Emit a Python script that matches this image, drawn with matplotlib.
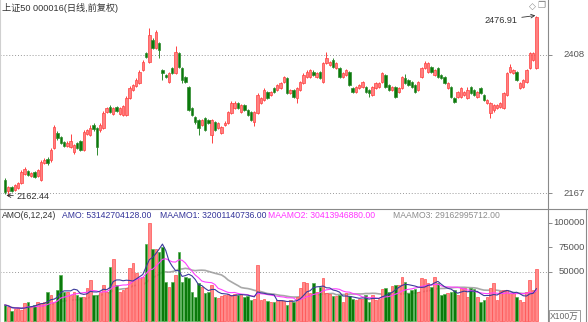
import matplotlib
matplotlib.use('Agg')
import matplotlib.pyplot as plt
from matplotlib.lines import Line2D
import numpy as np
import pandas as pd

plt.rcParams['font.family'] = ['Liberation Sans', 'Noto Sans CJK SC', 'DejaVu Sans']

# daily candles, SSE 50 (price)
opens = [2190, 2171, 2177, 2172, 2176, 2185, 2200, 2205, 2197, 2204,
         2197, 2190, 2219, 2226, 2225, 2246, 2272, 2265, 2256, 2249,
         2247, 2239, 2254, 2258, 2242, 2270, 2268, 2286, 2280, 2277,
         2280, 2308, 2317, 2305, 2317, 2305, 2303, 2303, 2333, 2347,
         2354, 2359, 2382, 2411, 2396, 2434, 2420, 2429, 2382, 2373,
         2361, 2385, 2377, 2411, 2385, 2370, 2352, 2315, 2300, 2294,
         2286, 2298, 2294, 2268, 2291, 2280, 2272, 2286, 2289, 2307,
         2315, 2324, 2308, 2321, 2312, 2308, 2291, 2307, 2324, 2329,
         2343, 2338, 2350, 2347, 2350, 2361, 2368, 2342, 2347, 2333,
         2347, 2359, 2370, 2370, 2378, 2370, 2378, 2361, 2394, 2390,
         2399, 2385, 2385, 2370, 2373, 2378, 2350, 2343, 2350, 2352,
         2352, 2347, 2338, 2350, 2352, 2361, 2373, 2356, 2347, 2352,
         2343, 2350, 2368, 2364, 2361, 2356, 2347, 2370, 2385, 2378,
         2387, 2373, 2385, 2373, 2370, 2350, 2352, 2333, 2335, 2335,
         2338, 2333, 2352, 2347, 2335, 2350, 2338, 2324, 2307, 2312,
         2315, 2317, 2315, 2338, 2378, 2377, 2378, 2350, 2352, 2361,
         2385, 2399, 2385]
closes = [2169, 2177, 2171, 2181, 2185, 2204, 2209, 2198, 2202, 2195,
          2207, 2221, 2225, 2219, 2242, 2282, 2263, 2254, 2249, 2254,
          2258, 2251, 2246, 2242, 2274, 2277, 2280, 2279, 2247, 2286,
          2307, 2315, 2308, 2315, 2310, 2315, 2319, 2333, 2350, 2356,
          2364, 2378, 2396, 2404, 2443, 2420, 2448, 2417, 2377, 2370,
          2377, 2377, 2413, 2387, 2364, 2361, 2312, 2303, 2291, 2281,
          2294, 2277, 2289, 2294, 2277, 2289, 2282, 2289, 2308, 2324,
          2324, 2315, 2321, 2312, 2303, 2294, 2308, 2338, 2333, 2347,
          2333, 2343, 2343, 2356, 2359, 2370, 2342, 2347, 2335, 2350,
          2361, 2373, 2378, 2382, 2373, 2377, 2368, 2394, 2403, 2396,
          2387, 2394, 2370, 2377, 2382, 2356, 2343, 2352, 2356, 2361,
          2343, 2342, 2352, 2359, 2359, 2377, 2352, 2347, 2352, 2335,
          2350, 2369, 2359, 2356, 2352, 2343, 2361, 2385, 2394, 2394,
          2378, 2382, 2370, 2368, 2359, 2359, 2335, 2326, 2343, 2350,
          2343, 2347, 2342, 2338, 2343, 2342, 2329, 2329, 2324, 2321,
          2321, 2324, 2342, 2377, 2387, 2382, 2364, 2359, 2364, 2382,
          2411, 2411, 2474]
highs = [2193, 2179, 2179, 2183, 2187, 2207, 2212, 2207, 2204, 2206,
         2209, 2224, 2229, 2230, 2245, 2286, 2275, 2267, 2258, 2257,
         2270, 2253, 2256, 2260, 2277, 2279, 2285, 2290, 2283, 2289,
         2310, 2318, 2320, 2317, 2319, 2318, 2321, 2336, 2353, 2358,
         2367, 2381, 2399, 2414, 2455, 2437, 2451, 2431, 2383, 2375,
         2379, 2387, 2424, 2413, 2387, 2372, 2354, 2317, 2302, 2296,
         2296, 2300, 2296, 2297, 2293, 2291, 2284, 2292, 2311, 2327,
         2327, 2326, 2323, 2323, 2314, 2310, 2310, 2341, 2335, 2350,
         2345, 2346, 2352, 2358, 2361, 2372, 2370, 2349, 2349, 2352,
         2363, 2376, 2381, 2384, 2381, 2379, 2380, 2396, 2413, 2398,
         2402, 2396, 2387, 2379, 2384, 2380, 2352, 2354, 2358, 2363,
         2354, 2349, 2354, 2361, 2361, 2379, 2375, 2358, 2354, 2354,
         2352, 2371, 2374, 2366, 2363, 2358, 2363, 2387, 2397, 2396,
         2389, 2384, 2387, 2375, 2372, 2361, 2354, 2335, 2345, 2352,
         2345, 2352, 2354, 2349, 2345, 2352, 2340, 2331, 2326, 2323,
         2323, 2326, 2344, 2379, 2392, 2384, 2380, 2361, 2366, 2384,
         2413, 2413, 2476.91]
lows = [2165, 2162.44, 2168, 2170, 2174, 2183, 2198, 2196, 2195, 2193,
        2195, 2188, 2217, 2216, 2222, 2244, 2260, 2252, 2247, 2247,
        2245, 2236, 2244, 2240, 2240, 2268, 2266, 2276, 2233, 2274,
        2278, 2306, 2306, 2303, 2308, 2303, 2301, 2301, 2331, 2345,
        2352, 2357, 2380, 2402, 2394, 2418, 2418, 2402, 2364, 2367,
        2359, 2375, 2375, 2385, 2359, 2359, 2310, 2301, 2288, 2268,
        2284, 2275, 2287, 2254, 2275, 2278, 2270, 2284, 2287, 2305,
        2313, 2313, 2306, 2310, 2301, 2292, 2284, 2305, 2322, 2327,
        2331, 2336, 2341, 2345, 2348, 2359, 2340, 2340, 2333, 2325,
        2345, 2357, 2368, 2368, 2371, 2368, 2366, 2359, 2392, 2388,
        2385, 2383, 2368, 2368, 2371, 2354, 2341, 2341, 2348, 2350,
        2341, 2335, 2336, 2348, 2350, 2359, 2350, 2345, 2345, 2333,
        2341, 2348, 2357, 2354, 2350, 2341, 2345, 2368, 2383, 2376,
        2376, 2371, 2368, 2366, 2357, 2348, 2333, 2324, 2333, 2333,
        2336, 2331, 2340, 2336, 2333, 2340, 2327, 2322, 2298, 2308,
        2313, 2315, 2313, 2336, 2376, 2375, 2362, 2348, 2350, 2359,
        2383, 2397, 2383]

# turnover (AMO), in units of 100万
amo = [16300, 14600, 10500, 12000, 12900, 11200, 18000, 19700, 13900, 16300,
       19700, 18500, 19700, 29900, 26500, 19700, 31600, 46900, 29900, 29900,
       26500, 29900, 27000, 24800, 24800, 33300, 41800, 26500, 26500, 29900,
       36700, 29900, 55400, 62900, 36700, 29900, 31600, 33300, 53700, 59500,
       49300, 43500, 45200, 78500, 99600, 73100, 73100, 70700, 75800, 40100,
       35000, 40100, 46900, 70700, 40100, 45200, 43500, 29900, 24800, 38400,
       35000, 28200, 29900, 36700, 24800, 23100, 25500, 26500, 27500, 26500,
       27500, 26500, 27500, 24800, 25500, 21400, 22100, 57100, 21400, 22100,
       20700, 19700, 19700, 21400, 21400, 20700, 16300, 21400, 19700, 24800,
       33300, 40100, 39100, 28200, 38400, 29900, 35000, 43500, 28200, 27500,
       25500, 25500, 26500, 19700, 28200, 25500, 22100, 21400, 22100, 22100,
       26500, 19700, 26500, 21400, 22100, 32300, 33300, 29900, 35700, 36700,
       36700, 45200, 40100, 28200, 31600, 32300, 29900, 43500, 42500, 38400,
       35000, 44500, 38400, 26500, 27500, 28200, 29900, 31600, 26500, 33300,
       33300, 24100, 33300, 32300, 24800, 19700, 21400, 24800, 33300, 38400,
       21400, 30900, 31600, 31600, 28900, 28200, 24800, 21400, 19700, 29900,
       41800, 31600, 53143]

title = '上证50 000016(日线,前复权)'
price_ticks = [2408, 2167]
vol_ticks = [100000, 75000, 50000]
legend_texts = ['AMO(6,12,24)', 'AMO: 53142704128.00', 'MAAMO1: 32001140736.00',
                'MAAMO2: 30413946880.00', 'MAAMO3: 29162995712.00']
legend_colors = ['#333333', '#333399', '#333399', '#ff33ff', '#8c8c8c']
legend_x = [2, 62, 160, 268, 393]

W, H = 588, 322
fig = plt.figure(figsize=(W / 100, H / 100), dpi=100)


def px_axes(x0, y0, x1, y1):
    return fig.add_axes([x0 / W, 1 - y1 / H, (x1 - x0) / W, (y1 - y0) / H])


o = np.array(opens, dtype=float)
c = np.array(closes, dtype=float)
h = np.array(highs, dtype=float)
l = np.array(lows, dtype=float)
v = np.array(amo, dtype=float)
x = np.arange(len(o))
up = c >= o

step = 3.28
xlim = (-5 / step, (548 - 5) / step)

# ---- price panel
ax1 = px_axes(0, 0, 548, 208)
ax1.set_xlim(*xlim)
ax1.set_ylim(2140.9, 2504)

red_edge, red_fill = '#ff4040', '#ff8080'
grn_edge, grn_fill = '#2e8b2e', '#0b7a0b'

ax1.vlines(x[up], l[up], h[up], color=red_edge, lw=0.7, zorder=2)
ax1.vlines(x[~up], l[~up], h[~up], color=grn_edge, lw=0.7, zorder=2)
body = np.maximum(np.abs(c - o), 0.8)
ax1.bar(x[up], body[up], bottom=np.minimum(o, c)[up], width=0.72,
        color=red_fill, edgecolor=red_edge, lw=0.5, zorder=3)
ax1.bar(x[~up], body[~up], bottom=np.minimum(o, c)[~up], width=0.72,
        color=grn_fill, edgecolor=grn_edge, lw=0.5, zorder=3)

for t in price_ticks:
    ax1.axhline(t, color='#9a9a9a', lw=0.7, ls=(0, (1, 2)), zorder=1)
    ax1.text(585 / 548, t, str(t), transform=ax1.get_yaxis_transform(),
             ha='right', va='center', fontsize=6.8, color='#555555')

ax1.yaxis.tick_right()
ax1.set_yticks(price_ticks)
ax1.tick_params(axis='y', length=3, width=0.6, color='#777777', labelright=False)
ax1.set_xticks([])
for s in ['top', 'bottom']:
    ax1.spines[s].set_visible(False)
ax1.spines['left'].set_color('#d0d0d0')
ax1.spines['right'].set_color('#8a8a8a')

imax = int(np.argmax(h))
imin = int(np.argmin(l))
ax1.annotate('%.2f' % h[imax], xy=(imax - 0.3, h[imax]), xytext=(156.3, 2469),
             ha='right', va='center', fontsize=6.6, color='#333333',
             arrowprops=dict(arrowstyle='->', color='#333333', lw=0.6,
                             shrinkA=1, shrinkB=0))
ax1.annotate('%.2f' % l[imin], xy=(imin - 0.6, l[imin] + 0.5), xytext=(3.6, 2161),
             ha='left', va='center', fontsize=6.6, color='#333333',
             arrowprops=dict(arrowstyle='->', color='#333333', lw=0.6,
                             shrinkA=0.5, shrinkB=0))

fig.text(2 / W, 1 - 8 / H, title, ha='left', va='center', fontsize=6.6, color='#333333')
fig.text(532 / W, 1 - 6 / H, '◇', ha='center', va='center', fontsize=6.5,
         color='#888888', family='DejaVu Sans')
fig.text(542 / W, 1 - 6 / H, '❐', ha='center', va='center', fontsize=6.5,
         color='#888888', family='DejaVu Sans')

# ---- volume panel
ax2 = px_axes(0, 209, 548, 322)
ax2.set_xlim(*xlim)
ax2.set_ylim(-1020, 114285)

ax2.bar(x[up], v[up], width=0.8, color='#ff8a8a', edgecolor='#ff5050', lw=0.5, zorder=2)
ax2.bar(x[~up], v[~up], width=0.8, color='#0b7a0b', edgecolor='#4fae4f', lw=0.5, zorder=2)

s = pd.Series(v)
ma1 = s.rolling(6, min_periods=1).mean()
ma2 = s.rolling(12, min_periods=1).mean()
ma3 = s.rolling(24, min_periods=1).mean()
ax2.plot(x, ma3, color='#a8a8a8', lw=1.2, zorder=1)
ax2.plot(x, ma2, color='#ff40ff', lw=0.8, zorder=3)
ax2.plot(x, ma1, color='#3b3b9b', lw=0.8, zorder=4)

ax2.axhline(50000, color='#9a9a9a', lw=0.7, ls=(0, (1, 2)), zorder=1)
for t in vol_ticks:
    ax2.text(585 / 548, t, str(t), transform=ax2.get_yaxis_transform(),
             ha='right', va='center', fontsize=6.8, color='#555555')
ax2.yaxis.tick_right()
ax2.set_yticks(vol_ticks)
ax2.tick_params(axis='y', length=3, width=0.6, color='#777777', labelright=False)
ax2.set_xticks([])
for sp in ['top', 'bottom']:
    ax2.spines[sp].set_visible(False)
ax2.spines['left'].set_color('#d0d0d0')
ax2.spines['right'].set_color('#8a8a8a')

for txt, col, xp in zip(legend_texts, legend_colors, legend_x):
    fig.text(xp / W, 1 - 216 / H, txt, ha='left', va='center', fontsize=6.2, color=col)

fig.text(550 / W, 1 - 316 / H, 'X100万', ha='left', va='center', fontsize=6.2,
         color='#666666',
         bbox=dict(boxstyle='square,pad=0.12', fc='white', ec='#8a8a8a', lw=0.6))

# panel borders
fig.add_artist(Line2D([0, 1], [1 - 208.5 / H] * 2, color='#8a8a8a', lw=0.8))
fig.add_artist(Line2D([585.5 / W] * 2, [0, 1 - 209 / H], color='#8a8a8a', lw=0.8))

fig.savefig('out.png', dpi=100, facecolor='white')
